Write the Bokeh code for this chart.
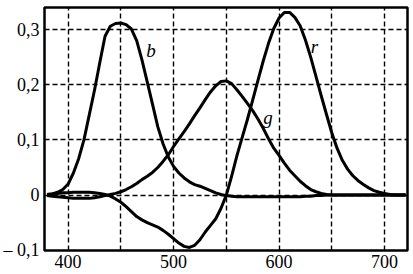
from bokeh.plotting import figure
from bokeh.models import FixedTicker, Range1d, Label
from bokeh.embed import file_html
from bokeh.resources import INLINE

wavelength = [380, 385, 390, 395, 400, 405, 410, 415, 420, 425, 430, 435, 440, 445, 450,
              455, 460, 465, 470, 475, 480, 485, 490, 495, 500, 505, 510, 515, 520, 525,
              530, 535, 540, 545, 550, 555, 560, 565, 570, 575, 580, 585, 590, 595, 600,
              605, 610, 615, 620, 625, 630, 635, 640, 645, 650, 655, 660, 665, 670, 675,
              680, 685, 690, 695, 700, 705, 710, 715, 720]

r_bar = [0.001, 0.002, 0.003, 0.004, 0.004, 0.005, 0.005, 0.005, 0.005, 0.004, 0.003, 0.001,
         -0.002, -0.007, -0.013, -0.021, -0.030, -0.039, -0.045, -0.050, -0.054, -0.058,
         -0.064, -0.071, -0.079, -0.087, -0.093, -0.095, -0.091, -0.081, -0.067, -0.055,
         -0.043, -0.024, 0.000, 0.034, 0.071, 0.104, 0.137, 0.172, 0.208, 0.243, 0.275,
         0.302, 0.321, 0.331, 0.331, 0.322, 0.307, 0.281, 0.250, 0.215, 0.180, 0.146,
         0.113, 0.085, 0.063, 0.047, 0.035, 0.026, 0.019, 0.013, 0.008, 0.005, 0.003,
         0.001, 0.000, 0.000, 0.000]

g_bar = [-0.001, -0.002, -0.003, -0.004, -0.005, -0.006, -0.006, -0.006, -0.006, -0.005,
         -0.003, -0.001, 0.001, 0.003, 0.006, 0.010, 0.015, 0.021, 0.028, 0.034, 0.041,
         0.050, 0.061, 0.073, 0.088, 0.102, 0.115, 0.129, 0.144, 0.158, 0.173, 0.187,
         0.198, 0.206, 0.207, 0.202, 0.191, 0.179, 0.166, 0.153, 0.138, 0.121, 0.102,
         0.085, 0.072, 0.058, 0.045, 0.035, 0.025, 0.017, 0.010, 0.006, 0.003, 0.001,
         0.000, 0.000, 0.000, 0.000, 0.000, 0.000, 0.000, 0.000, 0.000, 0.000, 0.000,
         0.000, 0.000, 0.000, 0.000]

b_bar = [0.001, 0.002, 0.005, 0.010, 0.020, 0.040, 0.066, 0.100, 0.145, 0.190, 0.240, 0.288,
         0.306, 0.311, 0.312, 0.309, 0.301, 0.280, 0.245, 0.205, 0.165, 0.124, 0.093,
         0.069, 0.052, 0.040, 0.031, 0.024, 0.019, 0.016, 0.012, 0.008, 0.004, 0.001,
         -0.001, -0.002, -0.003, -0.003, -0.003, -0.003, -0.003, -0.003, -0.003, -0.003,
         -0.003, -0.003, -0.003, -0.003, -0.003, -0.002, -0.002, -0.001, -0.001, 0.000,
         0.000, 0.000, 0.000, 0.000, 0.000, 0.000, 0.000, 0.000, 0.000, 0.000, 0.000,
         0.000, 0.000, 0.000, 0.000]

x_ticks = [400, 500, 600, 700]
x_grid = [400, 450, 500, 550, 600, 650, 700]
y_ticks = [-0.1, 0.0, 0.1, 0.2, 0.3]
y_tick_labels = ["\u2013 0,1", "0", "0,1", "0,2", "0,3"]
y_grid = [0.0, 0.1, 0.2, 0.3]

FONT = "Liberation Serif"

p = figure(width=413, height=274, output_backend="svg", toolbar_location=None,
           x_range=Range1d(377.6, 721.8), y_range=Range1d(-0.1005, 0.340))
p.min_border_left = 44
p.min_border_right = 6
p.min_border_top = 7
p.min_border_bottom = 24
p.background_fill_color = "white"
p.border_fill_color = "white"
p.outline_line_color = "black"
p.outline_line_width = 2.5

p.xaxis.ticker = FixedTicker(ticks=x_ticks)
p.yaxis.ticker = FixedTicker(ticks=y_ticks)
p.yaxis.major_label_overrides = {t: s for t, s in zip(y_ticks, y_tick_labels)}
for ax in (p.xaxis[0], p.yaxis[0]):
    ax.axis_line_color = None
    ax.major_tick_line_color = None
    ax.minor_tick_line_color = None
    ax.major_tick_out = 0
    ax.major_tick_in = 0
    ax.minor_tick_out = 0
    ax.minor_tick_in = 0
    ax.major_label_text_font = FONT
    ax.major_label_text_font_size = "18px"
    ax.major_label_text_color = "black"
p.xaxis.major_label_standoff = 4
p.yaxis.major_label_standoff = 5

p.xgrid.ticker = FixedTicker(ticks=x_grid)
p.ygrid.ticker = FixedTicker(ticks=y_grid)
for g in (p.xgrid[0], p.ygrid[0]):
    g.grid_line_color = "black"
    g.grid_line_dash = "5 3"
    g.grid_line_width = 1.4

for series in (b_bar, g_bar, r_bar):
    p.line(wavelength, series, line_color="black", line_width=3, line_join="round")

for txt, lx, ly in (("b", 478.5, 0.262), ("g", 589.5, 0.140), ("r", 633.5, 0.270)):
    p.add_layout(Label(x=lx, y=ly, text=txt, text_font=FONT, text_font_style="italic",
                       text_font_size="19px", text_align="center", text_baseline="middle",
                       text_color="black"))

open("out.html", "w").write(file_html(p, INLINE))
